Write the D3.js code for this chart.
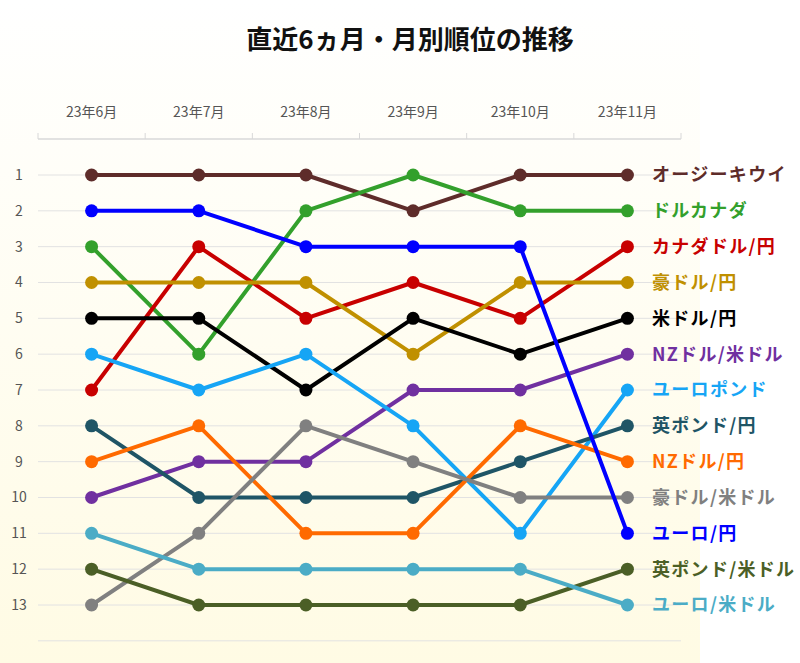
<!DOCTYPE html>
<html lang="ja">
<head>
<meta charset="utf-8">
<title>直近6ヵ月・月別順位の推移</title>
<script src="https://cdn.jsdelivr.net/npm/d3@7"></script>
<style>
  body { margin: 0; background: #fff; }
  svg text { font-family: "Noto Sans CJK JP", "Noto Sans", sans-serif; }
</style>
</head>
<body>
<div id="chart"></div>
<script>
  // months and series (rank per month)
  var months = ["23年6月", "23年7月", "23年8月", "23年9月", "23年10月", "23年11月"];
  var names = ["オージーキウイ", "ドルカナダ", "カナダドル/円", "豪ドル/円", "米ドル/円",
               "NZドル/米ドル", "ユーロポンド", "英ポンド/円", "NZドル/円", "豪ドル/米ドル",
               "ユーロ/円", "英ポンド/米ドル", "ユーロ/米ドル"];
  var colors = ["#5e2c2a", "#33a02c", "#c80000", "#c09000", "#000000",
                "#7030a0", "#16a5f5", "#1f5566", "#ff6a00", "#808080",
                "#0000ff", "#4b5f26", "#4bacc6"];
  var ranks = [
    [1, 1, 1, 2, 1, 1],
    [3, 6, 2, 1, 2, 2],
    [7, 3, 5, 4, 5, 3],
    [4, 4, 4, 6, 4, 4],
    [5, 5, 7, 5, 6, 5],
    [10, 9, 9, 7, 7, 6],
    [6, 7, 6, 8, 11, 7],
    [8, 10, 10, 10, 9, 8],
    [9, 8, 11, 11, 8, 9],
    [13, 11, 8, 9, 10, 10],
    [2, 2, 3, 3, 3, 11],
    [12, 13, 13, 13, 13, 12],
    [11, 12, 12, 12, 12, 13]
  ];
  var rankTicks = d3.range(1, 14);

  var width = 800, height = 663;

  var svg = d3.select("#chart").append("svg")
      .attr("width", width)
      .attr("height", height);

  var defs = svg.append("defs");
  var grad = defs.append("linearGradient")
      .attr("id", "bg")
      .attr("x1", "0%").attr("x2", "0%")
      .attr("y1", "0%").attr("y2", "100%");
  grad.append("stop").attr("offset", "0%").attr("stop-color", "#ffffff");
  grad.append("stop").attr("offset", "100%").attr("stop-color", "#fffbe4");

  svg.append("rect")
      .attr("x", 0).attr("y", 0)
      .attr("width", 700).attr("height", height)
      .attr("fill", "url(#bg)");

  svg.append("text")
      .attr("x", 410).attr("y", 49)
      .attr("text-anchor", "middle")
      .style("font-size", "26px")
      .style("font-weight", "bold")
      .style("fill", "#111")
      .text("直近6ヵ月・月別順位の推移");

  var x = d3.scaleBand().domain(months).range([38, 681]);
  var y = d3.scaleLinear().domain([1, 13]).range([175, 605]);

  // top axis
  var axisY = 139;
  var ax = svg.append("g");
  ax.append("line")
      .attr("x1", 38).attr("x2", 681)
      .attr("y1", axisY).attr("y2", axisY)
      .attr("stroke", "#d8d8d8").attr("stroke-width", 1.5);
  ax.selectAll(".tk")
    .data(months.map(function(m) { return x(m); }).concat([x.range()[1]]))
    .enter().append("line")
      .attr("x1", function(d) { return d; }).attr("x2", function(d) { return d; })
      .attr("y1", axisY - 6).attr("y2", axisY)
      .attr("stroke", "#d8d8d8");
  ax.selectAll("text")
    .data(months)
    .enter().append("text")
      .attr("x", function(d) { return x(d) + x.bandwidth() / 2; })
      .attr("y", 117)
      .attr("text-anchor", "middle")
      .style("font-size", "14px")
      .style("fill", "#555")
      .text(function(d) { return d; });

  // gridlines + rank labels
  var grid = svg.append("g");
  grid.selectAll("line")
    .data(rankTicks.concat([14]))
    .enter().append("line")
      .attr("x1", 38).attr("x2", 681)
      .attr("y1", function(d) { return y(d); })
      .attr("y2", function(d) { return y(d); })
      .attr("stroke", "#e2e2e2").attr("stroke-width", 1);
  grid.selectAll("text")
    .data(rankTicks)
    .enter().append("text")
      .attr("x", 19)
      .attr("y", function(d) { return y(d); })
      .attr("dy", "0.35em")
      .attr("text-anchor", "middle")
      .style("font-size", "14px")
      .style("fill", "#555")
      .text(function(d) { return d; });

  var cx = function(i) { return x(months[i]) + x.bandwidth() / 2; };
  var line = d3.line()
      .x(function(d, i) { return cx(i); })
      .y(function(d) { return y(d); });

  var series = svg.append("g").selectAll("g")
    .data(ranks)
    .enter().append("g");

  series.append("path")
      .attr("d", function(d) { return line(d); })
      .attr("fill", "none")
      .attr("stroke", function(d, i) { return colors[i]; })
      .attr("stroke-width", 4)
      .attr("stroke-linejoin", "round");

  series.each(function(d, i) {
    d3.select(this).selectAll("circle")
      .data(d)
      .enter().append("circle")
        .attr("cx", function(v, j) { return cx(j); })
        .attr("cy", function(v) { return y(v); })
        .attr("r", 6.5)
        .attr("fill", colors[i]);
  });

  series.append("text")
      .attr("x", 652)
      .attr("y", function(d) { return y(d[d.length - 1]); })
      .attr("dy", "0.36em")
      .style("font-size", "18px")
      .style("font-weight", "bold")
      .style("letter-spacing", "1.3px")
      .style("fill", function(d, i) { return colors[i]; })
      .text(function(d, i) { return names[i]; });
</script>
</body>
</html>
